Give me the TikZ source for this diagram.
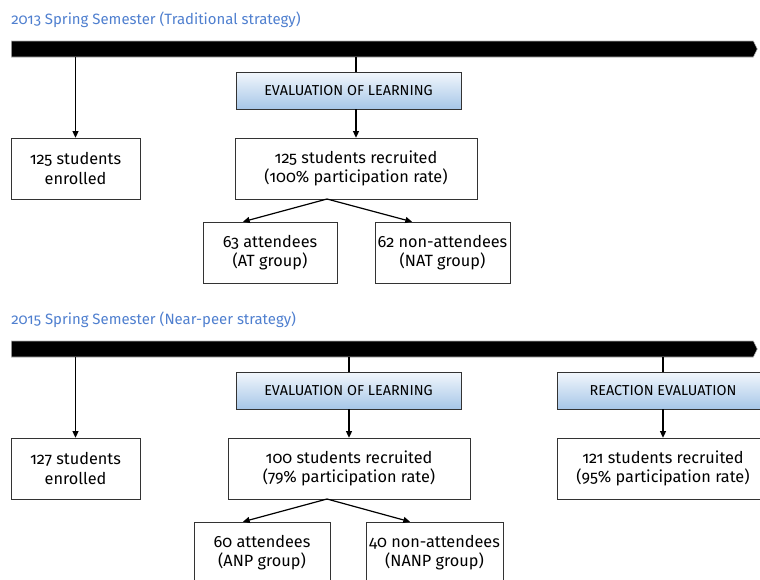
\documentclass[tikz,border=0pt]{standalone}
\usepackage{fontspec}
\setmainfont[Numbers=OldStyle]{Fira Sans}
\usepackage{xcolor}
\usetikzlibrary{arrows.meta, positioning, calc, shapes.symbols, shadows}

\definecolor{semblue}{HTML}{4F7FCF}
\definecolor{evaltop}{HTML}{F2F7FC}
\definecolor{evalbot}{HTML}{A6C6E8}
\definecolor{boxline}{HTML}{333333}

\begin{document}
\begin{tikzpicture}[x=0.75pt, y=-0.75pt,
        semester/.style={anchor=west, inner sep=0pt, font=\fontsize{11.2}{13}\selectfont, text=semblue},
        timeline/.style={signal, signal to=east, signal pointer angle=128, fill=black, draw=gray!60,
            minimum height=12pt, minimum width=559.5pt, inner sep=0pt},
        evalbox/.style={draw=boxline, top color=evaltop, bottom color=evalbot, minimum width=168.75pt,
            minimum height=27.75pt, font=\fontsize{10.8}{12}\selectfont, drop shadow={shadow xshift=1pt, shadow yshift=-1pt, fill=gray!50}},
        info/.style={draw=boxline, fill=white, align=center, minimum height=45.75pt, inner sep=2pt,
            font=\fontsize{12.2}{14.5}\selectfont},
        arr/.style={-{Triangle[length=5pt, width=4.5pt]}, line width=0.9pt},
        link/.style={line width=0.9pt}
    ]
        \useasboundingbox (0,0) rectangle (760,579);
        \clip (0,0) rectangle (760,579);

        % 2013
        \node[semester] (sem1) at (11,20) {2013 Spring Semester (Traditional strategy)};
        \node[timeline, anchor=west] (bar1) at (11,49) {};
        \node[info, minimum width=96.75pt] (enr1) at (75.5,168.5) {125 students\\enrolled};
        \node[evalbox] (eval1) at (348.5,90.5) {EVALUATION OF LEARNING};
        \node[info, minimum width=181.5pt] (rec1) at (356,168.5) {125 students recruited\\(100\% participation rate)};
        \node[info, minimum width=100.5pt] (at1) at (270,252.5) {63 attendees\\(AT group)};
        \node[info, minimum width=101.25pt] (nat1) at (442.5,252.5) {62 non-attendees\\(NAT group)};
        \coordinate (split1) at (327,199);

        \draw[arr] (bar1.south -| enr1) -- (enr1);
        \draw[link] (bar1.south -| rec1) -- (eval1.north -| rec1);
        \draw[arr] (eval1.south -| rec1) -- (rec1);
        \draw[arr] (split1) -- (at1.north -| 243,0);
        \draw[arr] (split1) -- (nat1.north -| 412,0);

        % 2015
        \node[semester] (sem2) at (11,320) {2015 Spring Semester (Near-peer strategy)};
        \node[timeline, anchor=west] (bar2) at (11,349) {};
        \node[info, minimum width=96.75pt] (enr2) at (75.5,468.5) {127 students\\enrolled};
        \node[evalbox] (eval2) at (348.5,390.5) {EVALUATION OF LEARNING};
        \node[info, minimum width=181.5pt] (rec2) at (349,468.5) {100 students recruited\\(79\% participation rate)};
        \node[info, minimum width=102pt] (anp) at (262,552.5) {60 attendees\\(ANP group)};
        \node[info, minimum width=102.75pt] (nanp) at (434.5,552.5) {40 non-attendees\\(NANP group)};
        \node[evalbox, minimum width=159pt] (react) at (663,390.5) {REACTION EVALUATION};
        \node[info, minimum width=159pt] (rec3) at (663,468.5) {121 students recruited\\(95\% participation rate)};
        \coordinate (split2) at (327,499);

        \draw[arr] (bar2.south -| enr2) -- (enr2);
        \draw[link] (bar2.south -| rec2) -- (eval2.north -| rec2);
        \draw[arr] (eval2.south -| rec2) -- (rec2);
        \draw[link] (bar2.south -| rec3) -- (react);
        \draw[arr] (react.south -| rec3) -- (rec3);
        \draw[arr] (split2) -- (anp.north -| 243,0);
        \draw[arr] (split2) -- (nanp.north -| 410,0);
    \end{tikzpicture}
\end{document}
